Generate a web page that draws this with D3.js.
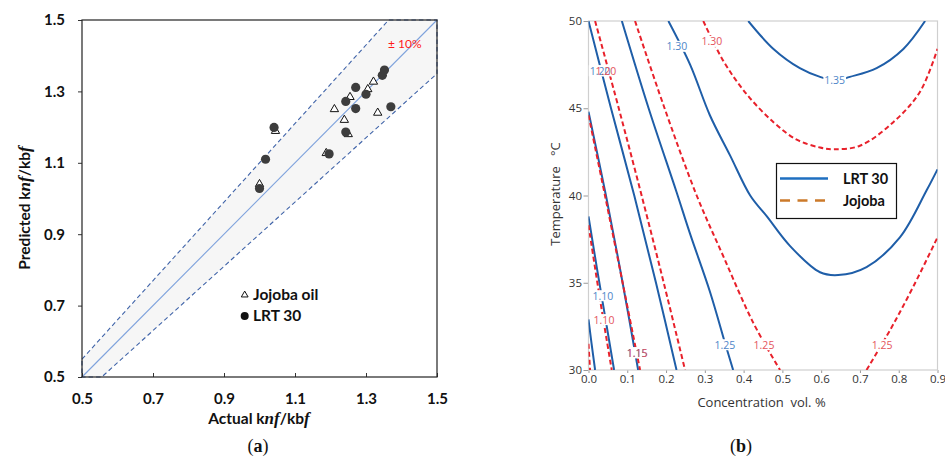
<!DOCTYPE html>
<html><head><meta charset="utf-8">
<script src="https://cdn.jsdelivr.net/npm/d3@7"></script>
<style>body{margin:0;background:#fff} svg{display:block}</style>
</head><body><svg id="c" width="945" height="459"></svg>
<script>
// ---------- Panel (a) data ----------
const ticksA = [0.5, 0.7, 0.9, 1.1, 1.3, 1.5];
const lrtActual    = [1.041, 1.017, 1.000, 1.196, 1.243, 1.243, 1.271, 1.271, 1.300, 1.346, 1.352, 1.370];
const lrtPredicted = [1.199, 1.110, 1.028, 1.125, 1.186, 1.272, 1.252, 1.311, 1.292, 1.345, 1.360, 1.257];
const jojobaActual    = [1.045, 1.000, 1.188, 1.211, 1.239, 1.250, 1.255, 1.305, 1.321, 1.333, 1.346];
const jojobaPredicted = [1.189, 1.040, 1.127, 1.250, 1.220, 1.180, 1.284, 1.306, 1.327, 1.240, 1.350];
const bandFraction = 0.10;

// ---------- Panel (b) data ----------
const concTicks = [0, 0.1, 0.2, 0.3, 0.4, 0.5, 0.6, 0.7, 0.8, 0.9];
const tempTicks = [30, 35, 40, 45, 50];
// contour lines: [concentration vol.%, temperature °C]
const lrt105 = [[0,32.9],[0.008,31.5],[0.017,30]];
const lrt110 = [[0,38.8],[0.022,35.8],[0.044,32.9],[0.066,30]];
const lrt115 = [[0,44.8],[0.045,40.0],[0.088,35.0],[0.128,30]];
const lrt120 = [[0,50],[0.058,45.0],[0.118,40.0],[0.174,35.0],[0.227,30]];
const lrt125 = [[0.086,50],[0.155,45],[0.227,40.2],[0.262,37.8],[0.313,34.5],[0.354,31.4],[0.373,30]];
const lrt130 = [[0.206,50],[0.262,47.5],[0.313,44.6],[0.365,42.3],[0.417,40.0],[0.46,38.8],[0.52,37.1],[0.597,35.6],[0.644,35.44],[0.717,35.9],[0.803,37.6],[0.872,40.3],[0.9,41.5]];
const lrt135 = [[0.412,50],[0.477,48.4],[0.545,47.3],[0.597,46.8],[0.638,46.6],[0.674,46.8],[0.743,47.3],[0.812,48.4],[0.868,50]];
const jojoba105 = [[0,31.5],[0.004,30]];
const jojoba110 = [[0,38.3],[0.03,34.0],[0.06,30]];
const jojoba115 = [[0,44.6],[0.0425,40.0],[0.088,35.0],[0.133,30]];
const jojoba120 = [[0.017,50],[0.078,45],[0.137,40.0],[0.194,35],[0.249,30]];
const jojoba125a = [[0.120,50],[0.193,45.2],[0.279,40.0],[0.348,36.5],[0.425,32.7],[0.494,30]];
const jojoba125b = [[0.717,30],[0.778,32.3],[0.838,34.8],[0.9,37.6]];
const jojoba130 = [[0.296,50],[0.348,47.7],[0.408,45.8],[0.477,44.2],[0.537,43.2],[0.597,42.75],[0.635,42.65],[0.70,42.85],[0.786,44.2],[0.855,45.95],[0.9,48.4]];
// contour labels: [text, concentration, temperature]
const lrtLabels = [["1.10",0.037,34.24],["1.15",0.125,30.97],["1.20",0.030,47.13],["1.25",0.352,31.43],["1.30",0.228,48.53],["1.35",0.635,46.62]];
const jojobaLabels = [["1.10",0.040,32.87],["1.15",0.126,30.97],["1.20",0.045,47.13],["1.25",0.4526,31.43],["1.25",0.757,31.43],["1.30",0.318,48.81]];
const legendB = ["LRT 30", "Jojoba"];

const svg = d3.select("#c");
const sans = "Lato, 'Open Sans', sans-serif";

// ================= Panel (a) =================
const xA = d3.scaleLinear().domain([0.5, 1.5]).range([82, 437]);
const yA = d3.scaleLinear().domain([0.5, 1.5]).range([377, 20]);
const gA = svg.append("g");
const lo = 0.5, hi = 1.5, p = bandFraction;
const band = [[lo, lo*(1+p)], [hi/(1+p), hi], [hi, hi], [hi, hi*(1-p)], [lo/(1-p), lo], [lo, lo]];
const lineA = d3.line().x(d => xA(d[0])).y(d => yA(d[1]));
gA.append("path").attr("d", lineA(band) + "Z")
  .attr("fill", "#f6f6f6").attr("stroke", "#3f63a8").attr("stroke-width", 1.1)
  .attr("stroke-dasharray", "4.5,3");
gA.append("path").attr("d", lineA([[lo, lo], [hi, hi]]))
  .attr("stroke", "#7ea2dc").attr("stroke-width", 1.1).attr("fill", "none");

const axL = d3.axisLeft(yA).tickValues(ticksA).tickFormat(d3.format(".1f")).tickSize(4).tickPadding(13);
const gL = gA.append("g").attr("transform", "translate(82,0)").call(axL);
const axB = d3.axisBottom(xA).tickValues(ticksA).tickFormat(d3.format(".1f")).tickSizeInner(-4).tickSizeOuter(0).tickPadding(16.5);
const gB = gA.append("g").attr("transform", "translate(0,377)").call(axB);
[gL, gB].forEach(g => {
  g.select(".domain").remove();
  g.selectAll("line").attr("stroke", "#333");
  g.selectAll("text").attr("font-family", sans).attr("font-weight", "bold").attr("font-size", 15).attr("fill", "#111");
});
gA.append("rect").attr("x", 82).attr("y", 20).attr("width", 355).attr("height", 357)
  .attr("fill", "none").attr("stroke", "#222").attr("stroke-width", 1.2);

gA.append("text").attr("x", 388).attr("y", 47.5).attr("font-family", sans).attr("font-size", 12)
  .attr("fill", "#ff1a1a").text("± 10%");

// markers
const tri = d3.symbol(d3.symbolTriangle, 30);
gA.append("g").selectAll("path").data(jojobaActual.map((a, i) => [a, jojobaPredicted[i]])).join("path")
  .attr("d", tri).attr("transform", d => `translate(${xA(d[0])},${yA(d[1])})`)
  .attr("fill", "#fff").attr("stroke", "#111").attr("stroke-width", 1);
gA.append("g").selectAll("circle").data(lrtActual.map((a, i) => [a, lrtPredicted[i]])).join("circle")
  .attr("cx", d => xA(d[0])).attr("cy", d => yA(d[1])).attr("r", 4.6)
  .attr("fill", "#3d3d3d");

// legend (a)
gA.append("path").attr("d", d3.symbol(d3.symbolTriangle, 20)).attr("transform", "translate(244.7,295)")
  .attr("fill", "#fff").attr("stroke", "#111").attr("stroke-width", 1);
gA.append("text").attr("x", 253).attr("y", 299.5).attr("font-family", sans).attr("font-weight", "bold")
  .attr("font-size", 15.5).attr("fill", "#111").text("Jojoba oil");
gA.append("circle").attr("cx", 244.7).attr("cy", 316).attr("r", 4).attr("fill", "#111");
gA.append("text").attr("x", 253).attr("y", 321).attr("font-family", sans).attr("font-weight", "bold")
  .attr("font-size", 15.5).attr("fill", "#111").text("LRT 30");

// axis titles (a)
function kTitle(sel, prefix) {
  sel.attr("font-family", sans).attr("font-weight", "bold").attr("font-size", 15.5).attr("fill", "#111");
  sel.append("tspan").text(prefix + "k");
  sel.append("tspan").attr("font-family", "'Liberation Serif', serif").attr("font-style", "italic").attr("font-size", 17).text("nf");
  sel.append("tspan").text("/kb");
  sel.append("tspan").attr("font-family", "'Liberation Serif', serif").attr("font-style", "italic").attr("font-size", 17).text("f");
}
kTitle(gA.append("text").attr("x", 259).attr("y", 424).attr("text-anchor", "middle"), "Actual ");
kTitle(gA.append("text").attr("transform", "translate(30,208) rotate(-90)").attr("text-anchor", "middle"), "Predicted ");

// caption (a)
const capA = svg.append("text").attr("x", 258).attr("y", 452).attr("text-anchor", "middle")
  .attr("font-family", "'Liberation Serif', serif").attr("font-size", 18).attr("fill", "#111");
capA.append("tspan").text("(");
capA.append("tspan").attr("font-weight", "bold").text("a");
capA.append("tspan").text(")");

// ================= Panel (b) =================
const xB = d3.scaleLinear().domain([0, 0.9]).range([588.5, 937.5]);
const yB = d3.scaleLinear().domain([30, 50]).range([370, 21]);
const gBp = svg.append("g");
const sansB = "'Open Sans', 'Noto Sans', sans-serif";
svg.append("defs").append("clipPath").attr("id", "clipB").append("rect")
  .attr("x", 588.5).attr("y", 21).attr("width", 349).attr("height", 349);

const axBL = d3.axisLeft(yB).tickValues(tempTicks).tickSize(5).tickPadding(1.5);
const gBL = gBp.append("g").attr("transform", "translate(588.5,0)").call(axBL);
const axBB = d3.axisBottom(xB).tickValues(concTicks).tickFormat(d3.format(".1f")).tickSize(3).tickPadding(1.5);
const gBB = gBp.append("g").attr("transform", "translate(0,370)").call(axBB);
[gBL, gBB].forEach(g => {
  g.select(".domain").remove();
  g.selectAll("line").attr("stroke", "#999");
  g.selectAll("text").attr("font-family", sansB).attr("font-size", 11.5).attr("fill", "#333");
});
gBp.append("rect").attr("x", 588.5).attr("y", 21).attr("width", 349).attr("height", 349)
  .attr("fill", "none").attr("stroke", "#cfcfcf").attr("stroke-width", 1.2);

const lineB = d3.line().x(d => xB(d[0])).y(d => yB(d[1])).curve(d3.curveCatmullRom.alpha(0.5));
const curves = gBp.append("g").attr("clip-path", "url(#clipB)");
const blueC = "#1f5ea8", redC = "#e8212b";
curves.selectAll("path.lrt").data([lrt105, lrt110, lrt115, lrt120, lrt125, lrt130, lrt135]).join("path")
  .attr("class", "lrt").attr("d", lineB).attr("fill", "none").attr("stroke", blueC).attr("stroke-width", 2);
curves.selectAll("path.joj").data([jojoba105, jojoba110, jojoba115, jojoba120, jojoba125a, jojoba125b, jojoba130]).join("path")
  .attr("class", "joj").attr("d", lineB).attr("fill", "none").attr("stroke", redC).attr("stroke-width", 2)
  .attr("stroke-dasharray", "5,3");

// contour labels: white backing boxes under the text
const allLabels = lrtLabels.map(d => [...d, "#4f86c8"]).concat(jojobaLabels.map(d => [...d, "#e4545c"]));
const labBg = gBp.append("g");
const lab = gBp.append("g").attr("font-family", sansB).attr("font-size", 10.5).attr("text-anchor", "middle");
lab.selectAll("text").data(allLabels).join("text")
  .attr("x", d => xB(d[1])).attr("y", d => yB(d[2])).attr("dy", "0.35em")
  .attr("fill", d => d[3]).text(d => d[0])
  .each(function() {
    const b = this.getBBox();
    labBg.append("rect").attr("x", b.x - 1).attr("y", b.y + 1.5).attr("width", b.width + 2).attr("height", b.height - 3)
      .attr("fill", "#fff");
  });

// legend (b)
const lg = gBp.append("g");
lg.append("rect").attr("x", 776.5).attr("y", 163.5).attr("width", 120).attr("height", 55)
  .attr("fill", "#fff").attr("stroke", "#111").attr("stroke-width", 1.2);
lg.append("line").attr("x1", 780).attr("x2", 828).attr("y1", 178.5).attr("y2", 178.5)
  .attr("stroke", "#1f6fc0").attr("stroke-width", 2.5);
lg.append("line").attr("x1", 780).attr("x2", 828).attr("y1", 200.5).attr("y2", 200.5)
  .attr("stroke", "#cc7a2a").attr("stroke-width", 2.5).attr("stroke-dasharray", "10,7.5");
lg.selectAll("text").data(legendB).join("text")
  .attr("x", 843).attr("y", (d, i) => 184 + i * 22).attr("font-family", sans).attr("font-weight", "bold")
  .attr("font-size", 14.5).attr("fill", "#111").text(d => d);

// axis titles (b)
gBp.append("text").attr("x", 761.5).attr("y", 407).attr("text-anchor", "middle")
  .attr("font-family", sansB).attr("font-size", 13).attr("fill", "#333")
  .attr("xml:space", "preserve").text("Concentration  vol. %");
gBp.append("text").attr("transform", "translate(560,194) rotate(-90)").attr("text-anchor", "middle")
  .attr("font-family", sansB).attr("font-size", 13).attr("fill", "#333")
  .attr("xml:space", "preserve").text("Temperature   °C");

const capB = svg.append("text").attr("x", 741).attr("y", 452).attr("text-anchor", "middle")
  .attr("font-family", "'Liberation Serif', serif").attr("font-size", 18).attr("fill", "#111");
capB.append("tspan").text("(");
capB.append("tspan").attr("font-weight", "bold").text("b");
capB.append("tspan").text(")");
</script></body></html>
